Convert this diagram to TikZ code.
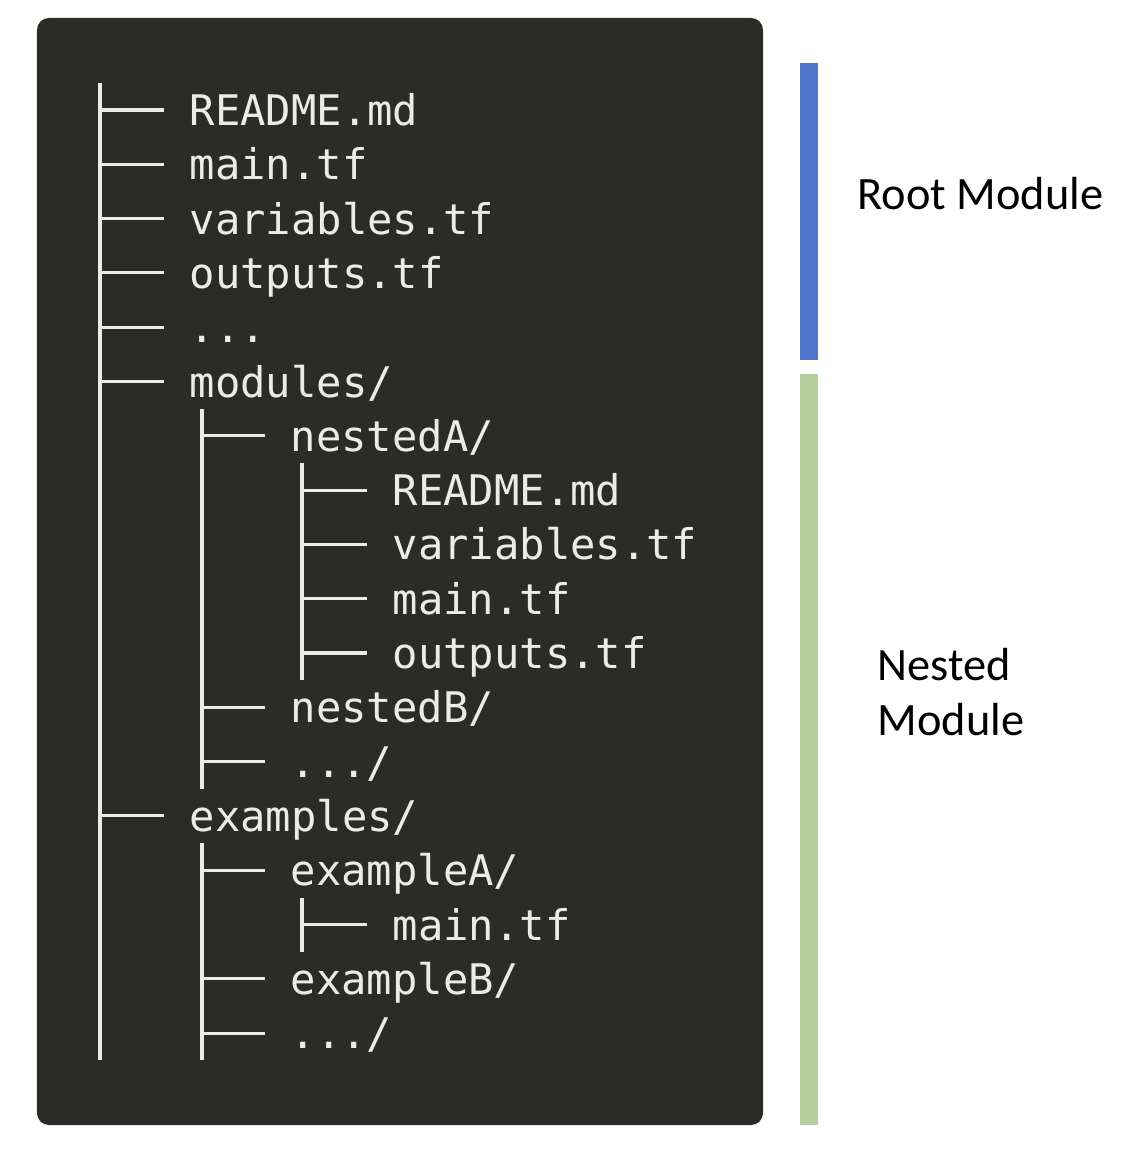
\documentclass[tikz,border=0pt]{standalone}
\usepackage{fontspec}
\setmainfont{Carlito}
\newfontfamily\treefont{DejaVu Sans Mono}
\definecolor{termbg}{RGB}{43,43,40}
\definecolor{termfg}{RGB}{236,236,230}
\definecolor{rootblue}{RGB}{79,117,200}
\definecolor{nestgreen}{RGB}{180,207,157}

\begin{document}
\begin{tikzpicture}[x=1cm, y=-1cm,
    file/.style={anchor=west, inner xsep=2.5mm, inner ysep=0pt, text=termfg,
        font=\treefont\fontsize{12}{14}\selectfont, text height=4.1mm, text depth=1mm},
    treeline/.style={draw=termfg, line width=0.9pt},
    modlabel/.style={anchor=base west, inner sep=0pt, align=left,
        font=\fontsize{13.2}{15.6}\selectfont}]
    \useasboundingbox (0,0) rectangle (11.42,11.66);

    % Terminal window
    \fill[termbg, rounded corners=3.4pt] (0.37,0.18) rectangle (7.63,11.25);

    % Top level entries
    \node[file] (readme)   at (1.64, 1.100) {README.md};
    \node[file] (maintf)   at (1.64, 1.643) {main.tf};
    \node[file] (vars)     at (1.64, 2.186) {variables.tf};
    \node[file] (outs)     at (1.64, 2.729) {outputs.tf};
    \node[file] (dots)     at (1.64, 3.272) {...};
    \node[file] (modules)  at (1.64, 3.815) {modules/};
    \node[file] (examples) at (1.64, 8.159) {examples/};

    % modules/
    \node[file] (nestedA) at (2.65, 4.358) {nestedA/};
    \node[file] (nAreadme) at (3.67, 4.901) {README.md};
    \node[file] (nAvars)   at (3.67, 5.444) {variables.tf};
    \node[file] (nAmain)   at (3.67, 5.987) {main.tf};
    \node[file] (nAouts)   at (3.67, 6.530) {outputs.tf};
    \node[file] (nestedB) at (2.65, 7.073) {nestedB/};
    \node[file] (nmore)   at (2.65, 7.616) {.../};

    % examples/
    \node[file] (exampleA) at (2.65, 8.702) {exampleA/};
    \node[file] (exAmain)  at (3.67, 9.245) {main.tf};
    \node[file] (exampleB) at (2.65, 9.788) {exampleB/};
    \node[file] (exmore)   at (2.65, 10.331) {.../};

    % Trunks
    \coordinate (t0top) at (1.00, 0.83);  \coordinate (t0bot) at (1.00, 10.60);
    \coordinate (tmtop) at (2.02, 4.09);  \coordinate (tmbot) at (2.02, 7.89);
    \coordinate (tatop) at (3.02, 4.63);  \coordinate (tabot) at (3.02, 6.80);
    \coordinate (tetop) at (2.02, 8.43);  \coordinate (tebot) at (2.02, 10.60);
    \coordinate (txtop) at (3.02, 8.975); \coordinate (txbot) at (3.02, 9.515);
    \draw[treeline] (t0top) -- (t0bot);
    \draw[treeline] (tmtop) -- (tmbot);
    \draw[treeline] (tatop) -- (tabot);
    \draw[treeline] (tetop) -- (tebot);
    \draw[treeline] (txtop) -- (txbot);

    % Branches
    \foreach \f in {readme, maintf, vars, outs, dots, modules, examples}
        \draw[treeline] (\f.west -| t0top) -- (\f.west);
    \foreach \f in {nestedA, nestedB, nmore}
        \draw[treeline] (\f.west -| tmtop) -- (\f.west);
    \foreach \f in {nAreadme, nAvars, nAmain, nAouts}
        \draw[treeline] (\f.west -| tatop) -- (\f.west);
    \foreach \f in {exampleA, exampleB, exmore}
        \draw[treeline] (\f.west -| tetop) -- (\f.west);
    \draw[treeline] (exAmain.west -| txtop) -- (exAmain.west);

    % Module bars
    \fill[rootblue]  (8.00,0.63) rectangle (8.18,3.60);
    \fill[nestgreen] (8.00,3.74) rectangle (8.18,11.25);
    \node[modlabel] (rootlbl) at (8.57, 2.09) {Root Module};
    \node[modlabel] (nestlbl) at (8.77, 7.35) {Nested\\Module};
\end{tikzpicture}
\end{document}
